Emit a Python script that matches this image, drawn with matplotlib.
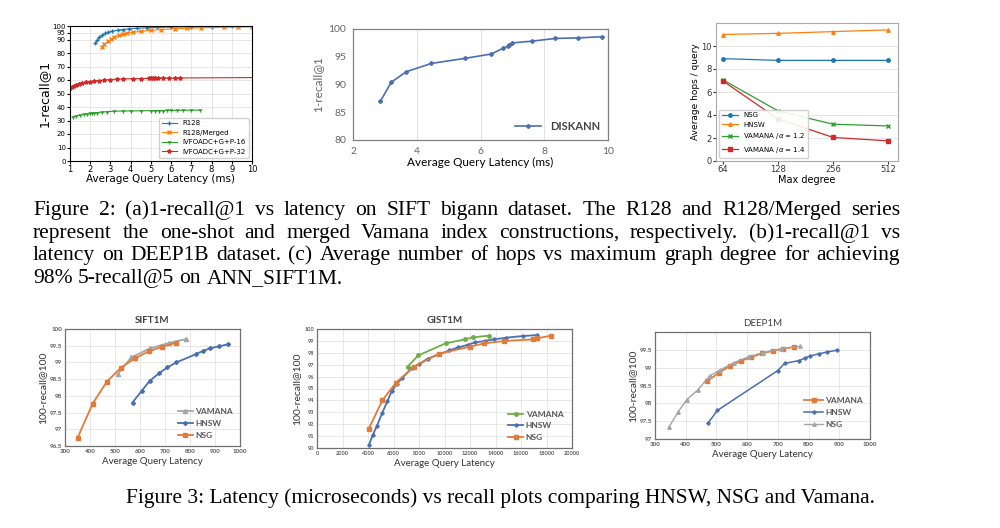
import matplotlib
matplotlib.use("Agg")
import matplotlib.pyplot as plt

# -----------------------------------------------------------------------------
# Data
# -----------------------------------------------------------------------------
# (a) SIFT bigann, 1-recall@1 vs latency (ms)
a_r128_x = [2.25, 2.35, 2.45, 2.6, 2.75, 2.9, 3.1, 3.35, 3.6, 3.9, 4.3, 4.8, 5.3, 6.0, 7.0, 8.0, 9.0, 10.0]
a_r128_y = [87.2, 89.5, 91.5, 93.2, 94.5, 95.4, 96.2, 96.9, 97.4, 97.9, 98.3, 98.7, 99.0, 99.2, 99.4, 99.55, 99.65, 99.75]
a_merged_x = [2.57, 2.7, 2.9, 3.05, 3.2, 3.4, 3.6, 3.8, 4.1, 4.5, 5.0, 5.5, 6.2, 6.8, 7.5, 8.6, 9.3, 10.0]
a_merged_y = [84.2, 86.5, 88.6, 90.3, 91.8, 93.0, 93.8, 94.5, 95.3, 96.0, 96.8, 97.4, 97.9, 98.3, 98.7, 99.0, 99.2, 99.4]
a_p16_x = [1.17, 1.3, 1.5, 1.7, 1.85, 2.0, 2.1, 2.2, 2.35, 2.6, 2.85, 3.2, 3.6, 4.0, 4.5,
           5.0, 5.2, 5.4, 5.6, 5.8, 6.0, 6.3, 6.6, 7.0, 7.45]
a_p16_y = [32.5, 33.4, 34.0, 34.5, 34.8, 35.2, 35.4, 35.6, 35.9, 36.3, 36.6, 36.9, 37.0, 37.1, 37.2,
           37.3, 37.35, 37.4, 37.4, 37.45, 37.5, 37.55, 37.6, 37.65, 37.7]
a_p32_x = [1.0, 1.08, 1.18, 1.3, 1.45, 1.6, 1.8, 2.0, 2.2, 2.45, 2.7, 3.0, 3.3, 3.6, 4.1, 4.5,
           4.9, 5.0, 5.1, 5.2, 5.35, 5.6, 5.9, 6.2, 6.45, 10.0]
a_p32_y = [53.8, 54.8, 55.6, 56.4, 57.1, 57.7, 58.3, 58.8, 59.2, 59.6, 60.0, 60.3, 60.6, 60.8, 61.0, 61.1,
           61.2, 61.2, 61.25, 61.3, 61.3, 61.35, 61.4, 61.45, 61.5, 61.8]

# (b) DEEP1B, DISKANN
b_x = [2.86, 3.2, 3.67, 4.46, 5.5, 6.34, 6.7, 6.86, 6.9, 7.0, 7.6, 8.35, 9.06, 9.8]
b_y = [87.0, 90.4, 92.3, 93.8, 94.7, 95.5, 96.5, 96.9, 97.2, 97.5, 97.8, 98.3, 98.4, 98.6]

# (c) hops vs max degree
c_degree = ["64", "128", "256", "512"]
c_nsg = [8.9, 8.75, 8.75, 8.75]
c_hnsw = [11.0, 11.1, 11.25, 11.4]
c_vam12 = [7.05, 4.35, 3.2, 3.05]
c_vam14 = [6.95, 3.65, 2.05, 1.75]

# SIFT1M
d_vam_x = [510, 565, 640, 715, 785]
d_vam_y = [98.65, 99.15, 99.42, 99.58, 99.7]
d_hnsw_x = [570, 608, 639, 675, 709, 745, 825, 850, 880, 915, 950]
d_hnsw_y = [97.8, 98.16, 98.45, 98.67, 98.85, 99.0, 99.25, 99.34, 99.42, 99.48, 99.54]
d_nsg_x = [350, 410, 467, 523, 579, 635, 689, 745]
d_nsg_y = [96.74, 97.76, 98.42, 98.84, 99.12, 99.33, 99.47, 99.59]

# GIST1M
e_vam_x = [7100, 7950, 10080, 11600, 12250, 13470]
e_vam_y = [96.83, 97.78, 98.79, 99.13, 99.3, 99.44]
e_hnsw_x = [4090, 4380, 4690, 5130, 5520, 5860, 6250, 6690, 7420, 8000, 8670, 10370, 11070,
            11850, 12420, 13150, 13850, 14840, 16150, 17270]
e_hnsw_y = [90.28, 91.12, 91.82, 92.98, 93.93, 94.78, 95.37, 95.9, 96.69, 97.05, 97.5, 98.2, 98.45,
            98.68, 98.88, 98.99, 99.13, 99.27, 99.41, 99.49]
e_nsg_x = [4040, 5130, 6200, 7600, 9560, 11980, 13100, 14660, 16930, 17240, 18360]
e_nsg_y = [91.57, 94.02, 95.5, 96.83, 97.92, 98.51, 98.79, 98.99, 99.13, 99.21, 99.44]

# DEEP1M
f_vam_x = [470, 508, 543, 580, 613, 648, 683, 717, 753]
f_vam_y = [98.62, 98.86, 99.04, 99.19, 99.29, 99.4, 99.47, 99.53, 99.58]
f_hnsw_x = [473, 503, 700, 722, 770, 788, 805, 835, 860, 893]
f_hnsw_y = [97.45, 97.8, 98.92, 99.12, 99.2, 99.27, 99.33, 99.39, 99.44, 99.49]
f_nsg_x = [345, 376, 403, 440, 478, 513, 557, 603, 650, 710, 773]
f_nsg_y = [97.33, 97.77, 98.1, 98.38, 98.77, 98.94, 99.14, 99.3, 99.42, 99.53, 99.6]

caption2 = [
    "Figure 2: (a)1-recall@1 vs latency on SIFT bigann dataset. The R128 and R128/Merged series",
    "represent the one-shot and merged Vamana index constructions, respectively. (b)1-recall@1 vs",
    "latency on DEEP1B dataset. (c) Average number of hops vs maximum graph degree for achieving",
    "98% 5-recall@5 on ANN_SIFT1M.",
]
caption3 = "Figure 3: Latency (microseconds) vs recall plots comparing HNSW, NSG and Vamana."

# -----------------------------------------------------------------------------
W, H = 1000, 528
XL_BLUE = "#4A6FB0"
XL_ORANGE = "#E07B39"
XL_GRAY = "#A5A5A5"
XL_GREEN = "#70AD47"
XL_TEXT = "#595959"
XL_FONT = "Lato"
CAP_SIZE = 15.5


def px_axes(fig, left, top, right, bottom):
    """Axes placed with pixel coordinates (origin top left)."""
    return fig.add_axes([left / W, 1 - bottom / H, (right - left) / W, (bottom - top) / H])


def excel_style(ax, title=None):
    for s in ax.spines.values():
        s.set_color("#707070")
        s.set_linewidth(0.9)
    ax.grid(True, color="#e4e4e4", linewidth=0.6)
    ax.set_axisbelow(True)
    ax.tick_params(length=0, labelsize=4.5, labelcolor=XL_TEXT, pad=2)
    for lab in ax.get_xticklabels() + ax.get_yticklabels():
        lab.set_fontfamily(XL_FONT)
        lab.set_fontweight("bold")
    if title:
        ax.set_title(title, fontsize=7, fontweight="bold", color="#404040",
                     family=XL_FONT, pad=4)


def justified(fig, words_line, x0, x1, y, size, renderer, justify=True):
    words = words_line.split()
    texts = [fig.text(0, 0, w, fontsize=size, family="Liberation Serif",
                      transform=None) for w in words]
    widths = [t.get_window_extent(renderer).width for t in texts]
    space = fig.text(0, 0, "a a", fontsize=size, family="Liberation Serif", transform=None)
    aa = fig.text(0, 0, "aa", fontsize=size, family="Liberation Serif", transform=None)
    normal = space.get_window_extent(renderer).width - aa.get_window_extent(renderer).width
    space.remove()
    aa.remove()
    if justify and len(words) > 1:
        gap = (x1 - x0 - sum(widths)) / (len(words) - 1)
    else:
        gap = normal
    x = x0
    for t, w in zip(texts, widths):
        t.set_position((x, H - y))
        x += w + gap


def main():
    fig = plt.figure(figsize=(10, 5.28), dpi=100)
    fig.patch.set_facecolor("white")

    # ---------------------------------------------------------------- (a)
    ax = px_axes(fig, 70, 26, 252, 161)
    ax.plot(a_r128_x, a_r128_y, color="tab:blue", marker="+", ms=3, lw=0.8, label="R128")
    ax.plot(a_merged_x, a_merged_y, color="tab:orange", marker="x", ms=2.5, lw=0.8,
            label="R128/Merged")
    ax.plot(a_p16_x, a_p16_y, color="tab:green", marker="1", ms=3, lw=0.8, label="IVFOADC+G+P-16")
    ax.plot(a_p32_x, a_p32_y, color="tab:red", marker="*", ms=3, lw=0.8,
            markevery=list(range(len(a_p32_x) - 1)), label="IVFOADC+G+P-32")
    ax.set_xlim(1, 10)
    ax.set_ylim(0, 100)
    ax.set_xticks(range(1, 11))
    ax.set_yticks([0, 10, 20, 30, 40, 50, 60, 70, 80, 90, 95, 100])
    ax.grid(True, color="#dddddd", linewidth=0.5)
    ax.tick_params(labelsize=6, length=2, pad=1)
    ax.tick_params(axis="y", labelsize=5)
    ax.set_xlabel("Average Query Latency (ms)", fontsize=7.5, labelpad=0)
    ax.set_ylabel("1-recall@1", fontsize=9, labelpad=1)
    ax.legend(loc="lower right", fontsize=5, handlelength=2.2, borderpad=0.4,
              labelspacing=0.5, framealpha=0.9)

    # ---------------------------------------------------------------- (b)
    ax = px_axes(fig, 353, 29, 608, 140)
    ax.plot(b_x, b_y, color=XL_BLUE, marker="P", ms=2.5, lw=1.2, label="DISKANN")
    ax.set_xlim(2, 10)
    ax.set_ylim(80, 100)
    ax.set_xticks([2, 4, 6, 8, 10])
    ax.set_yticks([80, 85, 90, 95, 100])
    for s in ax.spines.values():
        s.set_color("#808080")
        s.set_linewidth(0.9)
    ax.grid(True, axis="x", color="#e2e2e2", linewidth=0.7)
    ax.tick_params(length=0, labelsize=7.5, labelcolor="#666666", pad=5)
    for lab in ax.get_xticklabels() + ax.get_yticklabels():
        lab.set_fontfamily(XL_FONT)
    ax.set_xlabel("Average Query Latency (ms)", fontsize=8.5, family=XL_FONT, labelpad=1)
    ax.set_ylabel("1-recall@1", fontsize=8.5, family=XL_FONT, color="#666666", labelpad=4)
    leg = ax.legend(loc="lower right", frameon=False, fontsize=8, handlelength=2.4,
                    borderaxespad=0.3)
    for t in leg.get_texts():
        t.set_fontweight("bold")
        t.set_fontfamily(XL_FONT)
        t.set_color("#444444")

    # ---------------------------------------------------------------- (c)
    ax = px_axes(fig, 716, 23, 898, 161)
    pos = range(len(c_degree))
    ax.plot(pos, c_nsg, color="tab:blue", marker="o", ms=2.5, lw=0.9, label="NSG")
    ax.plot(pos, c_hnsw, color="tab:orange", marker="^", ms=2.5, lw=0.9, label="HNSW")
    ax.plot(pos, c_vam12, color="tab:green", marker="x", ms=2.5, lw=0.9,
            label="VAMANA /$\\alpha$ = 1.2")
    ax.plot(pos, c_vam14, color="tab:red", marker="s", ms=2.5, lw=0.9,
            label="VAMANA /$\\alpha$ = 1.4")
    ax.set_xlim(-0.13, 3.18)
    ax.set_ylim(0, 12)
    ax.set_xticks(list(pos))
    ax.set_xticklabels(c_degree)
    ax.set_yticks([0, 2, 4, 6, 8, 10])
    ax.grid(True, axis="y", color="#e0e0e0", linewidth=0.6)
    for s in ax.spines.values():
        s.set_color("#aaaaaa")
    ax.tick_params(labelsize=6, length=2, pad=1, colors="#333333")
    ax.set_xlabel("Max degree", fontsize=7, labelpad=0.5)
    ax.set_ylabel("Average hops / query", fontsize=6.5, labelpad=1)
    ax.legend(loc="lower left", fontsize=5, handlelength=2.2, borderpad=0.4,
              labelspacing=0.5, framealpha=0.9)

    # ---------------------------------------------------------------- SIFT1M
    ax = px_axes(fig, 65, 329, 240, 446)
    ax.plot(d_vam_x, d_vam_y, color=XL_GRAY, marker="^", ms=3, lw=1.3, label="VAMANA")
    ax.plot(d_hnsw_x, d_hnsw_y, color=XL_BLUE, marker="D", ms=2, lw=1.3, label="HNSW")
    ax.plot(d_nsg_x, d_nsg_y, color=XL_ORANGE, marker="s", ms=3, lw=1.3, label="NSG")
    ax.set_xlim(300, 1000)
    ax.set_ylim(96.5, 100)
    ax.set_xticks(range(300, 1001, 100))
    ax.set_yticks([96.5, 97, 97.5, 98, 98.5, 99, 99.5, 100])
    ax.set_yticklabels(["96.5", "97", "97.5", "98", "98.5", "99", "99.5", "100"])
    excel_style(ax, "SIFT1M")
    ax.set_xlabel("Average Query Latency", fontsize=7, family=XL_FONT, color="#333333", labelpad=2)
    ax.set_ylabel("100-recall@100", fontsize=7.5, family=XL_FONT, color="#333333", labelpad=2)
    leg = ax.legend(loc="lower left", bbox_to_anchor=(0.6, 0.0), frameon=False, fontsize=6,
                    handlelength=1.8, labelspacing=0.6, handletextpad=0.3)
    for t in leg.get_texts():
        t.set_fontweight("bold")
        t.set_fontfamily(XL_FONT)
        t.set_color(XL_TEXT)

    # ---------------------------------------------------------------- GIST1M
    ax = px_axes(fig, 317, 329, 572, 448)
    ax.plot(e_vam_x, e_vam_y, color=XL_GREEN, marker="o", ms=2.5, lw=1.3, label="VAMANA")
    ax.plot(e_hnsw_x, e_hnsw_y, color=XL_BLUE, marker="P", ms=2.2, lw=1.3, label="HNSW")
    ax.plot(e_nsg_x, e_nsg_y, color=XL_ORANGE, marker="s", ms=3, lw=1.3, label="NSG")
    ax.set_xlim(0, 20000)
    ax.set_ylim(90, 100)
    ax.set_xticks(range(0, 20001, 2000))
    ax.set_yticks(range(90, 101))
    excel_style(ax, "GIST1M")
    ax.tick_params(labelsize=4)
    ax.set_xlabel("Average Query Latency", fontsize=7, family=XL_FONT, color="#333333", labelpad=2)
    ax.set_ylabel("100-recall@100", fontsize=7.5, family=XL_FONT, color="#333333", labelpad=2)
    leg = ax.legend(loc="lower left", bbox_to_anchor=(0.72, 0.0), frameon=False, fontsize=6,
                    handlelength=1.8, labelspacing=0.5, handletextpad=0.3)
    for t in leg.get_texts():
        t.set_fontweight("bold")
        t.set_fontfamily(XL_FONT)
        t.set_color(XL_TEXT)

    # ---------------------------------------------------------------- DEEP1M
    ax = px_axes(fig, 655, 332, 870, 439)
    ax.plot(f_vam_x, f_vam_y, color=XL_ORANGE, marker="s", ms=3, lw=1.3, label="VAMANA")
    ax.plot(f_hnsw_x, f_hnsw_y, color=XL_BLUE, marker="P", ms=2.2, lw=1.1, label="HNSW")
    ax.plot(f_nsg_x, f_nsg_y, color=XL_GRAY, marker="^", ms=2.5, lw=1.0, label="NSG")
    ax.set_xlim(300, 1000)
    ax.set_ylim(97, 100)
    ax.set_xticks(range(300, 1001, 100))
    ax.set_yticks([97, 97.5, 98, 98.5, 99, 99.5])
    ax.set_yticklabels(["97", "97.5", "98", "98.5", "99", "99.5"])
    excel_style(ax)
    ax.set_title("DEEP1M", fontsize=7, color="#404040", family=XL_FONT, pad=4)
    ax.set_xlabel("Average Query Latency", fontsize=7, family=XL_FONT, color="#333333", labelpad=2)
    ax.set_ylabel("100-recall@100", fontsize=7.5, family=XL_FONT, color="#333333", labelpad=2)
    leg = ax.legend(loc="lower left", bbox_to_anchor=(0.66, 0.03), frameon=False, fontsize=6,
                    handlelength=2.2, labelspacing=0.6, handletextpad=0.3)
    for t in leg.get_texts():
        t.set_fontweight("bold")
        t.set_fontfamily(XL_FONT)
        t.set_color(XL_TEXT)

    # ---------------------------------------------------------------- captions
    renderer = fig.canvas.get_renderer()
    baselines = [215, 238, 260, 283]
    for i, (line, yb) in enumerate(zip(caption2, baselines)):
        justified(fig, line, 33, 900, yb, CAP_SIZE, renderer, justify=(i < len(caption2) - 1))
    fig.text(0.5, 1 - 503 / H, caption3, ha="center", va="baseline",
             fontsize=CAP_SIZE, family="Liberation Serif")

    fig.savefig("out.png", dpi=100)
    plt.close(fig)


if __name__ == "__main__":
    main()
